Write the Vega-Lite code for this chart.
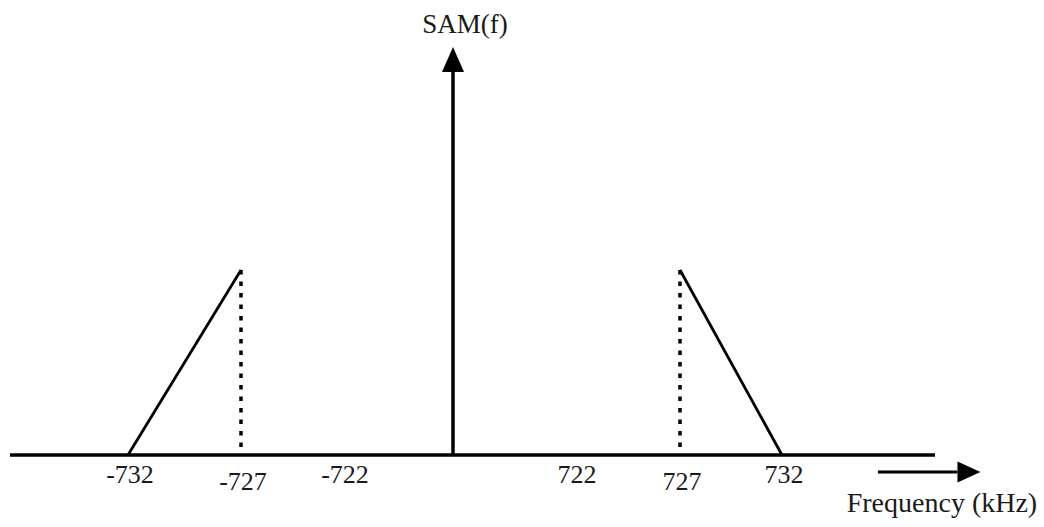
{
  "$schema": "https://vega.github.io/schema/vega-lite/v6.json",
  "width": 1044,
  "height": 527,
  "padding": 0,
  "autosize": {"type": "none"},
  "background": "white",
  "config": {"view": {"stroke": null}},
  "datasets": {
    "sidebands": [
      {"f": -732, "a": 0, "band": "lower"},
      {"f": -727, "a": 1, "band": "lower"},
      {"f": 727, "a": 1, "band": "upper"},
      {"f": 732, "a": 0, "band": "upper"}
    ],
    "carriers": [{"f": -727, "a": 1, "a0": 0}, {"f": 727, "a": 1, "a0": 0}],
    "freqAxis": [{"f": -738, "f2": 739.5, "a": 0}],
    "ampAxis": [{"f": 0, "a": 0, "a2": 2.07}],
    "ticks": [
      {"f": -732, "a": -0.151, "label": "-732"},
      {"f": -727, "a": -0.189, "label": "-727"},
      {"f": -722, "a": -0.151, "label": "-722"},
      {"f": 722, "a": -0.151, "label": "722"},
      {"f": 727, "a": -0.189, "label": "727"},
      {"f": 732, "a": -0.151, "label": "732"}
    ],
    "freqArrow": [{"f": 736.7, "f2": 740.6, "a": -0.092}],
    "ampTitle": [{"f": 71, "a": 2.28, "text": "SAM(f)"}],
    "freqTitle": [{"f": 739.84, "a": -0.308, "text": "Frequency (kHz)"}]
  },
  "layer": [
    {
      "data": {"name": "freqAxis"},
      "mark": {"type": "rule", "strokeWidth": 3.5, "color": "black", "strokeCap": "butt"},
      "encoding": {
        "x": {"field": "f", "type": "quantitative", "axis": null,
              "scale": {"domain": [-738, -732, -727, -722, 0, 722, 727, 732, 746], "range": [10, 128, 241, 343, 453, 575, 680, 782, 1067.6], "zero": false, "nice": false}},
        "x2": {"field": "f2"},
        "y": {"field": "a", "type": "quantitative", "axis": null,
              "scale": {"domain": [0, 1], "range": [455, 270], "zero": false, "nice": false}}
      }
    },
    {
      "data": {"name": "ampAxis"},
      "mark": {"type": "rule", "strokeWidth": 3.5, "color": "black", "strokeCap": "butt"},
      "encoding": {
        "x": {"field": "f", "type": "quantitative", "axis": null},
        "y": {"field": "a", "type": "quantitative", "axis": null},
        "y2": {"field": "a2"}
      }
    },
    {
      "data": {"name": "ampAxis"},
      "mark": {"type": "point", "shape": "M0,-2L-0.88,0L0.88,0Z", "size": 625, "filled": true, "color": "black", "opacity": 1, "strokeWidth": 0},
      "encoding": {
        "x": {"field": "f", "type": "quantitative", "axis": null},
        "y": {"field": "a2", "type": "quantitative", "axis": null}
      }
    },
    {
      "data": {"name": "carriers"},
      "mark": {"type": "rule", "strokeWidth": 3.5, "color": "black", "strokeDash": [4.5, 7], "strokeCap": "butt"},
      "encoding": {
        "x": {"field": "f", "type": "quantitative", "axis": null},
        "y": {"field": "a", "type": "quantitative", "axis": null},
        "y2": {"field": "a0"}
      }
    },
    {
      "data": {"name": "sidebands"},
      "mark": {"type": "line", "strokeWidth": 2.8, "color": "black"},
      "encoding": {
        "x": {"field": "f", "type": "quantitative", "axis": null},
        "y": {"field": "a", "type": "quantitative", "axis": null},
        "detail": {"field": "band", "type": "nominal"}
      }
    },
    {
      "data": {"name": "freqArrow"},
      "mark": {"type": "rule", "strokeWidth": 3, "color": "black", "strokeCap": "butt"},
      "encoding": {
        "x": {"field": "f", "type": "quantitative", "axis": null},
        "x2": {"field": "f2"},
        "y": {"field": "a", "type": "quantitative", "axis": null}
      }
    },
    {
      "data": {"name": "freqArrow"},
      "mark": {"type": "point", "shape": "M2,0L0,-0.913L0,0.913Z", "size": 529, "filled": true, "color": "black", "opacity": 1, "strokeWidth": 0},
      "encoding": {
        "x": {"field": "f2", "type": "quantitative", "axis": null},
        "y": {"field": "a", "type": "quantitative", "axis": null}
      }
    },
    {
      "data": {"name": "ticks"},
      "mark": {"type": "text", "font": "Liberation Serif", "fontSize": 26, "color": "#1a1a1a", "baseline": "alphabetic", "align": "center", "dx": 2},
      "encoding": {
        "x": {"field": "f", "type": "quantitative", "axis": null},
        "y": {"field": "a", "type": "quantitative", "axis": null},
        "text": {"field": "label", "type": "nominal"}
      }
    },
    {
      "data": {"name": "ampTitle"},
      "mark": {"type": "text", "font": "Liberation Serif", "fontSize": 27, "color": "#1a1a1a", "baseline": "alphabetic", "align": "center"},
      "encoding": {
        "x": {"field": "f", "type": "quantitative", "axis": null},
        "y": {"field": "a", "type": "quantitative", "axis": null},
        "text": {"field": "text", "type": "nominal"}
      }
    },
    {
      "data": {"name": "freqTitle"},
      "mark": {"type": "text", "font": "Liberation Serif", "fontSize": 28, "color": "#1a1a1a", "baseline": "alphabetic", "align": "center"},
      "encoding": {
        "x": {"field": "f", "type": "quantitative", "axis": null},
        "y": {"field": "a", "type": "quantitative", "axis": null},
        "text": {"field": "text", "type": "nominal"}
      }
    }
  ]
}
